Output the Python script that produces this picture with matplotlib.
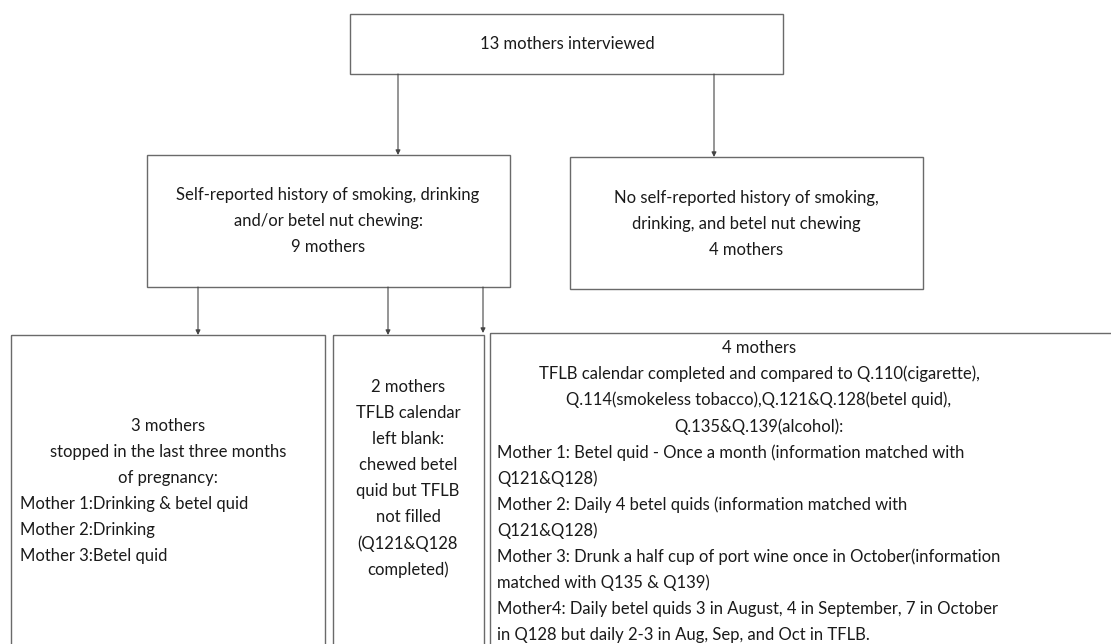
import matplotlib
matplotlib.use('Agg')
import matplotlib.pyplot as plt
from matplotlib.patches import Rectangle

plt.rcParams['font.family'] = ['Lato', 'DejaVu Sans']

# box texts
top_text = ['13 mothers interviewed']
yes_text = ['Self-reported history of smoking, drinking',
            'and/or betel nut chewing:',
            '9 mothers']
no_text = ['No self-reported history of smoking,',
           'drinking, and betel nut chewing',
           '4 mothers']
stopped_head = ['3 mothers',
                'stopped in the last three months',
                'of pregnancy:']
stopped_list = ['Mother 1:Drinking & betel quid',
                'Mother 2:Drinking',
                'Mother 3:Betel quid']
blank_text = ['2 mothers', 'TFLB calendar', 'left blank:', 'chewed betel',
              'quid but TFLB', 'not filled', '(Q121&Q128', 'completed)']
done_head = ['4 mothers',
             'TFLB calendar completed and compared to Q.110(cigarette),',
             'Q.114(smokeless tobacco),Q.121&Q.128(betel quid),',
             'Q.135&Q.139(alcohol):']
done_list = ['Mother 1: Betel quid - Once a month (information matched with',
             'Q121&Q128)',
             'Mother 2: Daily 4 betel quids (information matched with',
             'Q121&Q128)',
             'Mother 3: Drunk a half cup of port wine once in October(information',
             'matched with Q135 & Q139)',
             'Mother4: Daily betel quids 3 in August, 4 in September, 7 in October',
             'in Q128 but daily 2-3 in Aug, Sep, and Oct in TFLB.']

W, H = 1111, 644
fig = plt.figure(figsize=(W / 100, H / 100), dpi=100)
ax = fig.add_axes([0, 0, 1, 1])
ax.set_xlim(0, W)
ax.set_ylim(H, 0)
ax.axis('off')

edge = '#6a6a6a'
tcol = '#1a1a1a'
fs = 12.0
lh = 26.1


def box(x0, y0, x1, y1):
    ax.add_patch(Rectangle((x0, y0), x1 - x0, y1 - y0, fill=False,
                           ec=edge, lw=1.0))


def lines(x, y, txt, ha='center'):
    for i, s in enumerate(txt):
        ax.text(x, y + i * lh, s, ha=ha, va='center', fontsize=fs, color=tcol)


def arrow(x, y0, y1):
    ax.annotate('', xy=(x, y1), xytext=(x, y0),
                arrowprops=dict(arrowstyle='-|>', lw=0.8, color='#444444',
                                mutation_scale=7, shrinkA=0, shrinkB=0))


# boxes
box(350, 14, 783, 74)
box(147, 155, 510, 287)
box(570, 157, 923, 289)
box(11, 335, 325, 700)
box(333, 335, 484, 700)
box(490, 333, 1130, 700)

# arrows
arrow(398, 74, 155)
arrow(714, 74, 157)
arrow(198, 287, 335)
arrow(388, 287, 335)
arrow(483, 287, 333)

# texts
lines(567, 44, top_text)
lines(328, 195, yes_text, )
lines(746, 198, no_text)
lines(168, 426, stopped_head)
lines(20, 426 + 3 * lh, stopped_list, ha='left')
lines(408, 387, blank_text)
lines(759, 348, done_head)
lines(497, 348 + 4 * lh, done_list, ha='left')

fig.savefig('out.png', dpi=100)
